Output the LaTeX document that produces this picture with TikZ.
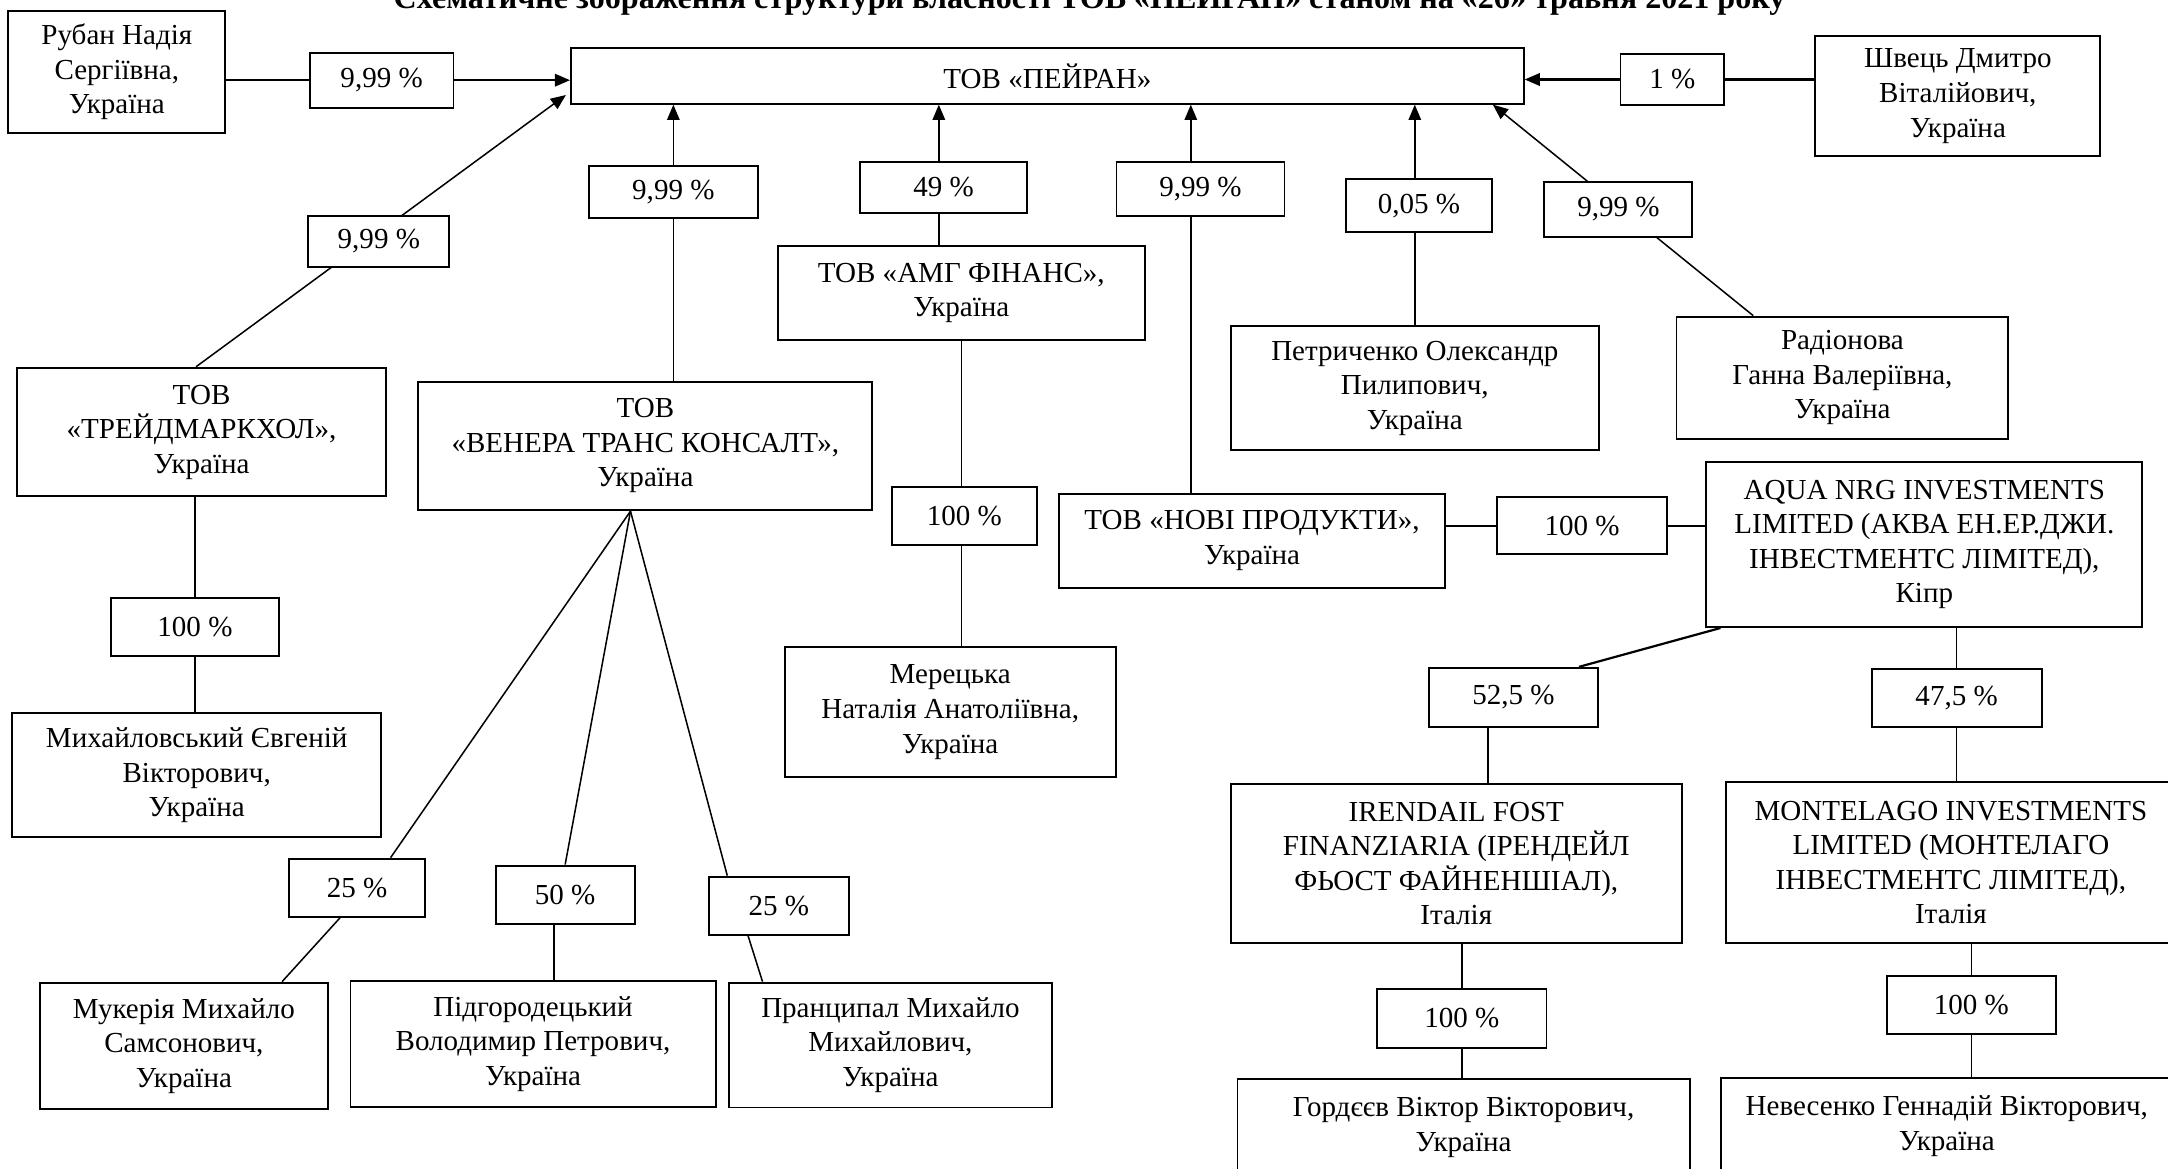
\documentclass[tikz,border=0pt]{standalone}
\usepackage{fontspec}
\setmainfont{Liberation Serif}
\usetikzlibrary{arrows.meta,calc}
\pgfdeclarelayer{bg}
\pgfsetlayers{bg,main}
\newcommand\boxfont{\fontsize{21}{25}\selectfont}
\newcommand\titlefont{\fontsize{23.2}{27}\selectfont\bfseries}
\begin{document}
\begin{tikzpicture}[x=1pt,y=-1pt,
  ent/.style={draw, line width=1.4pt, fill=white, align=center, inner sep=0pt, font=\boxfont},
  pct/.style={ent},
  conn/.style={line width=1.1pt},
  thk/.style={line width=1.6pt},
  arr/.style={conn, -{Triangle[length=11pt,width=9pt]}}]
\useasboundingbox (0,0) rectangle (1568,845);
\clip (0,0) rectangle (1568,845);

% title (cut at top edge, as in the reference)
\node[font=\titlefont, anchor=base, inner sep=0pt] (title) at (788,6.5) {Схематичне зображення структури власності ТОВ «ПЕЙРАН» станом на «26» травня 2021 року};

% entities
\node[ent, minimum width=157pt, minimum height=88pt] (ruban) at (84.5,52) {Рубан Надія\\Сергіївна,\\Україна};
\node[ent, minimum width=689pt, minimum height=40pt] (peyran) at (757.5,55) {ТОВ «ПЕЙРАН»};
\node[ent, minimum width=206pt, minimum height=87pt] (shvets) at (1416,69.5) {Швець Дмитро\\Віталійович,\\Україна};
\node[ent, minimum width=266.5pt, minimum height=93pt] (treyd) at (145.75,312.5) {ТОВ\\«ТРЕЙДМАРКХОЛ»,\\Україна};
\node[ent, minimum width=328.5pt, minimum height=93pt] (venera) at (466.75,322.5) {ТОВ\\«ВЕНЕРА ТРАНС КОНСАЛТ»,\\Україна};
\node[ent, minimum width=265.5pt, minimum height=68pt] (amg) at (695.25,212) {ТОВ «АМГ ФІНАНС»,\\Україна};
\node[ent, minimum width=279pt, minimum height=68pt] (novi) at (905.5,391) {ТОВ «НОВІ ПРОДУКТИ»,\\Україна};
\node[ent, minimum width=266.5pt, minimum height=89.5pt] (petr) at (1023.25,280.75) {Петриченко Олександр\\Пилипович,\\Україна};
\node[ent, minimum width=240pt, minimum height=88.5pt] (radi) at (1332.5,273.25) {Радіонова\\Ганна Валеріївна,\\Україна};
\node[ent, minimum width=266.5pt, minimum height=89.5pt] (mykh) at (142.25,560.75) {Михайловський Євгеній\\Вікторович,\\Україна};
\node[ent, minimum width=239.5pt, minimum height=94pt] (mer) at (687.25,515) {Мерецька\\Наталія Анатоліївна,\\Україна};
\node[ent, minimum width=315.5pt, minimum height=119.5pt] (aqua) at (1391.75,393.75) {AQUA NRG INVESTMENTS\\LIMITED (АКВА ЕН.ЕР.ДЖИ.\\ІНВЕСТМЕНТС ЛІМІТЕД),\\Кіпр};
\node[ent, minimum width=326.5pt, minimum height=115pt] (iren) at (1053.25,624.5) {IRENDAIL FOST\\FINANZIARIA (ІРЕНДЕЙЛ\\ФЬОСТ ФАЙНЕНШІАЛ),\\Італія};
\node[ent, minimum width=326pt, minimum height=116.5pt] (monte) at (1411,623.75) {MONTELAGO INVESTMENTS\\LIMITED (МОНТЕЛАГО\\ІНВЕСТМЕНТС ЛІМІТЕД),\\Італія};
\node[ent, minimum width=327pt, minimum height=70pt] (gord) at (1058.5,815.4) {Гордєєв Віктор Вікторович,\\Україна};
\node[ent, minimum width=327pt, minimum height=70pt] (neve) at (1408,814.4) {Невесенко Геннадій Вікторович,\\Україна};
\node[ent, minimum width=208pt, minimum height=91.3pt] (muk) at (133,756.35) {Мукерія Михайло\\Самсонович,\\Україна};
\node[ent, minimum width=264pt, minimum height=91pt] (pidh) at (385.5,755) {Підгородецький\\Володимир Петрович,\\Україна};
\node[ent, minimum width=234pt, minimum height=90.3pt] (pran) at (644,755.85) {Пранципал Михайло\\Михайлович,\\Україна};

% percentage labels
\node[pct, minimum width=104pt, minimum height=40pt] (l_ruban) at (276,58) {9,99 \%};
\node[pct, minimum width=75pt, minimum height=37pt] (l_shvets) at (1209.5,57.5) {1 \%};
\node[pct, minimum width=102pt, minimum height=37pt] (l_treyd) at (274,174.5) {9,99 \%};
\node[pct, minimum width=122pt, minimum height=38pt] (l_venera) at (487,139) {9,99 \%};
\node[pct, minimum width=121pt, minimum height=37pt] (l_amg) at (682.5,135.5) {49 \%};
\node[pct, minimum width=121.5pt, minimum height=39pt] (l_novi) at (868.25,136.5) {9,99 \%};
\node[pct, minimum width=105.5pt, minimum height=38.5pt] (l_petr) at (1026.25,148.75) {0,05 \%};
\node[pct, minimum width=107pt, minimum height=40pt] (l_radi) at (1170.5,151.5) {9,99 \%};
\node[pct, minimum width=122pt, minimum height=41.7pt] (l_mykh) at (141,453.5) {100 \%};
\node[pct, minimum width=105pt, minimum height=42pt] (l_mer) at (697.5,373) {100 \%};
\node[pct, minimum width=122.5pt, minimum height=41.5pt] (l_aqua) at (1144.25,380.25) {100 \%};
\node[pct, minimum width=122.2pt, minimum height=42.6pt] (l_iren) at (1094.6,504.3) {52,5 \%};
\node[pct, minimum width=123pt, minimum height=42pt] (l_monte) at (1415.1,505) {47,5 \%};
\node[pct, minimum width=122.5pt, minimum height=42.7pt] (l_gord) at (1057.25,736.35) {100 \%};
\node[pct, minimum width=122.5pt, minimum height=42pt] (l_neve) at (1425.75,727) {100 \%};
\node[pct, minimum width=98.5pt, minimum height=42pt] (l_muk) at (258.25,642) {25 \%};
\node[pct, minimum width=100.5pt, minimum height=42.3pt] (l_pidh) at (408.75,647.15) {50 \%};
\node[pct, minimum width=101.5pt, minimum height=42pt] (l_pran) at (563.25,655) {25 \%};

% helper points
\coordinate (tT) at ([xshift=-4pt]treyd.north);
\coordinate (tipT) at ([shift={(-3,-7)}]peyran.south west);
\coordinate (amgx) at ([xshift=-3.5pt]l_amg.center);
\coordinate (novx) at ([xshift=-7pt]l_novi.center);
\coordinate (radS) at ([xshift=-64.5pt]radi.north);
\coordinate (radT) at ([xshift=-23pt]peyran.south east);
\coordinate (vfan) at ([xshift=-10.75pt]venera.south);
\coordinate (mukA) at ([xshift=24.25pt]l_muk.north);
\coordinate (mukB) at ([xshift=-12.25pt]l_muk.south);
\coordinate (mukC) at ([xshift=71pt]muk.north);
\coordinate (pidB) at ([xshift=-8.25pt]l_pidh.south);
\coordinate (prA) at ([xshift=-37.25pt]l_pran.north);
\coordinate (prB) at ([xshift=-22.25pt]l_pran.south);
\coordinate (prC) at ([xshift=-92.5pt]pran.north);
\coordinate (aqA) at ([xshift=11pt]aqua.south west);
\coordinate (irA) at ([xshift=47.4pt]l_iren.north);
\coordinate (irx) at ([xshift=-18.6pt]l_iren.south);

\begin{pgfonlayer}{bg}
\draw[arr,thk] (ruban.east |- l_ruban) -- (peyran.west |- l_ruban);
\draw[arr,thk] (shvets.west |- l_shvets) -- (peyran.east |- l_shvets);
\draw[arr] (tT) -- (tipT);
\draw[arr] (venera.north -| l_venera) -- (peyran.south -| l_venera);
\draw[arr] (amg.north -| amgx) -- (peyran.south -| amgx);
\draw[arr] (novi.north -| novx) -- (peyran.south -| novx);
\draw[arr] (petr.north) -- (petr.north |- peyran.south);
\draw[arr] (radS) -- (radT);
\draw[conn] (amg.south) -- (amg.south |- mer.north);
\draw[conn] (treyd.south -| l_mykh) -- (mykh.north -| l_mykh);
\draw[conn] (vfan) -- (mukA);
\draw[conn] (mukB) -- (mukC);
\draw[conn] (vfan) -- (l_pidh.north);
\draw[conn] (pidB) -- (pidB |- pidh.north);
\draw[conn] (vfan) -- (prA);
\draw[conn] (prB) -- (prC);
\draw[thk] (novi.east |- l_aqua) -- (aqua.west |- l_aqua);
\draw[thk] (aqA) -- (irA);
\draw[conn] (irx) -- (irx |- iren.north);
\draw[conn] (aqua.south -| l_monte) -- (monte.north -| l_monte);
\draw[conn] (iren.south -| l_gord) -- (gord.north -| l_gord);
\draw[conn] (monte.south -| l_neve) -- (neve.north -| l_neve);
\end{pgfonlayer}
\end{tikzpicture}
\end{document}
